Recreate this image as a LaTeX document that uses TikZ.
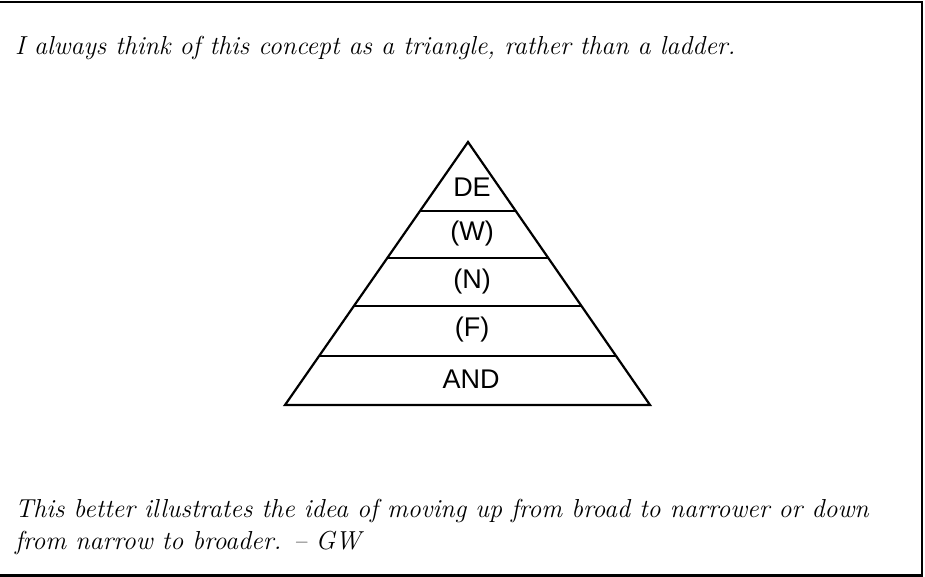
\documentclass[tikz,border=0pt]{standalone}
\usepackage{fontspec}
\newfontfamily\labelfont{Liberation Sans}
\usetikzlibrary{calc,positioning}

\begin{document}
\begin{tikzpicture}[
    x=1pt, y=-1pt,
    frame/.style={line width=2.5pt},
    pyramid/.style={line width=2.2pt, line join=miter},
    tier/.style={font=\labelfont\fontsize{27}{27}\selectfont, inner sep=0pt},
    note/.style={font=\itshape\fontsize{26}{32}\selectfont, inner sep=0pt, align=left}
]
\useasboundingbox (0,0) rectangle (925,577);

% Frame
\draw[frame] (0,2) -- (922,2) -- (922,575.5) -- (0,575.5);

% Top note
\node[note, anchor=base west] (topnote) at (15,55) {I always think of this concept as a triangle, rather than a ladder.};

% Triangle
\coordinate (apex) at (468,142);
\coordinate (bl) at (285,405);
\coordinate (br) at (650,405);
\draw[pyramid] (apex) -- (bl) -- (br) -- cycle;

% Tier lines
\foreach \y in {211, 258, 306, 356} {
  \pgfmathsetmacro\t{(\y-142)/263}
  \draw[pyramid] ($(apex)!\t!(bl)$) -- ($(apex)!\t!(br)$);
}

% Tier labels
\node[tier] (de) at (472,187) {DE};
\node[tier] (w) at (472,234) {(W)};
\node[tier] (n) at (472,282) {(N)};
\node[tier] (f) at (472,330) {(F)};
\node[tier] (and) at (471,379) {AND};

% Bottom note
\node[note, anchor=base west] (botnote) at (15,549) {This better illustrates the idea of moving up from broad to narrower or down\\from narrow to broader. – GW};

\end{tikzpicture}
\end{document}
